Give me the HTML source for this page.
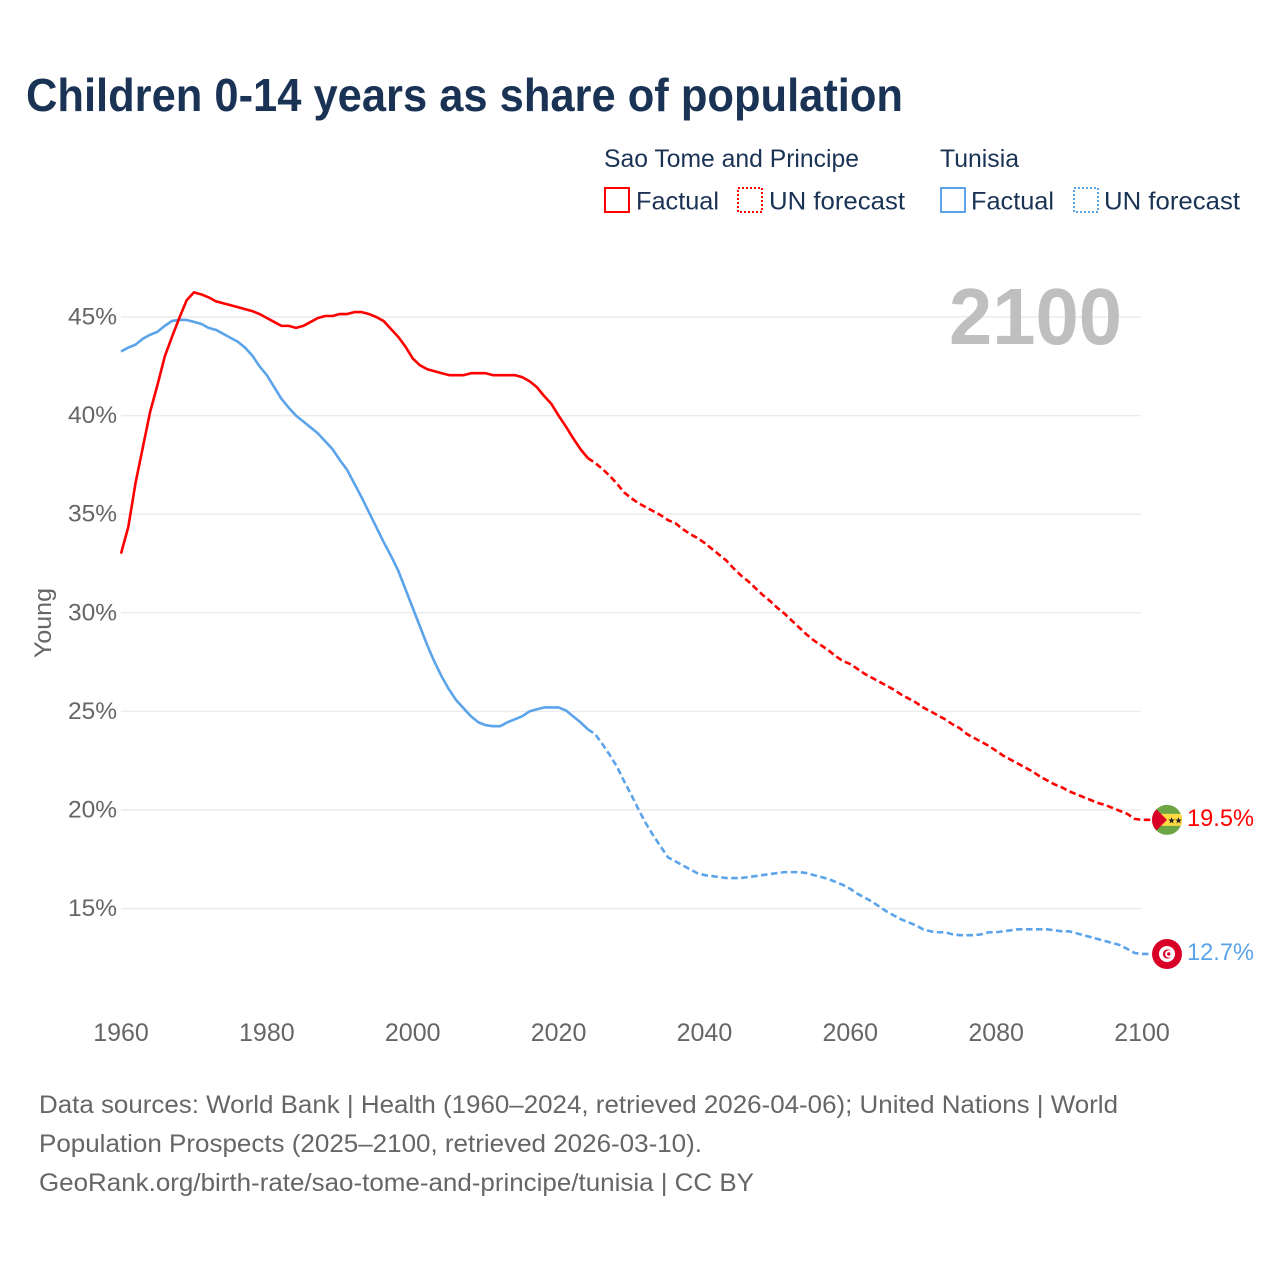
<!DOCTYPE html>
<html lang="en">
<head>
<meta charset="utf-8">
<title>Children 0-14 years as share of population</title>
<style>
html,body{margin:0;padding:0;background:#fff;}
svg{display:block;font-family:"Liberation Sans",sans-serif;}
.legend{fill:#1a3355;font-size:25px;}
.foot{fill:#666;font-size:25px;}
.tick{fill:#666;font-size:24.5px;}
</style>
</head>
<body>
<svg id="chart" xmlns="http://www.w3.org/2000/svg" width="1280" height="1280" viewBox="0 0 1280 1280">
  <defs>
    <clipPath id="flag-clip"><circle cx="0" cy="0" r="15"></circle></clipPath>
  </defs>
  <rect x="0" y="0" width="1280" height="1280" fill="#fff"></rect>

  <text x="26" y="111" font-size="46" font-weight="700" fill="#1a3355" textLength="877" lengthAdjust="spacingAndGlyphs">Children 0-14 years as share of population</text>

  <g>
    <text class="legend" x="604" y="167" textLength="255" lengthAdjust="spacingAndGlyphs">Sao Tome and Principe</text>
    <text class="legend" x="940" y="167" textLength="79" lengthAdjust="spacingAndGlyphs">Tunisia</text>

    <rect x="605" y="188" width="24" height="24" fill="none" stroke="#ff0000" stroke-width="2"></rect>
    <text class="legend" x="636" y="209.5" textLength="83" lengthAdjust="spacingAndGlyphs">Factual</text>
    <rect x="738" y="188" width="24" height="24" fill="none" stroke="#ff0000" stroke-width="2" stroke-dasharray="2 2"></rect>
    <text class="legend" x="769" y="209.5" textLength="136" lengthAdjust="spacingAndGlyphs">UN forecast</text>

    <rect x="941" y="188" width="24" height="24" fill="none" stroke="#5ba4ea" stroke-width="2"></rect>
    <text class="legend" x="971" y="209.5" textLength="83" lengthAdjust="spacingAndGlyphs">Factual</text>
    <rect x="1074" y="188" width="24" height="24" fill="none" stroke="#5ba4ea" stroke-width="2" stroke-dasharray="2 2"></rect>
    <text class="legend" x="1104" y="209.5" textLength="136" lengthAdjust="spacingAndGlyphs">UN forecast</text>
  </g>

  <g id="grid"></g>

  <text x="949" y="344" font-size="80" font-weight="700" fill="#bfbfbf" textLength="173" lengthAdjust="spacingAndGlyphs">2100</text>

  <text class="tick" transform="translate(51,623) rotate(-90)" text-anchor="middle" textLength="70" lengthAdjust="spacingAndGlyphs">Young</text>

  <g id="y-ticks"></g>
  <g id="x-ticks"></g>
  <g id="series"></g>

  <g id="flag-sao">
    <g clip-path="url(#flag-clip)">
      <rect x="-15" y="-15" width="30" height="30" fill="#6da544"></rect>
      <rect x="-15" y="-6" width="30" height="12" fill="#ffda44"></rect>
      <polygon points="-15,-15 0,0 -15,15" fill="#d80027"></polygon>
      <text x="0.5" y="3.5" font-size="9" fill="#222">★</text>
      <text x="7.5" y="3.5" font-size="9" fill="#222">★</text>
    </g>
  </g>
  <g id="flag-tunisia">
    <g clip-path="url(#flag-clip)">
      <rect x="-15" y="-15" width="30" height="30" fill="#d80027"></rect>
      <circle cx="0" cy="0" r="8" fill="#fff"></circle>
      <circle cx="0.5" cy="0" r="4.6" fill="#d80027"></circle>
      <circle cx="1.8" cy="0" r="3.7" fill="#fff"></circle>
      <circle cx="1.8" cy="0" r="1.7" fill="#d80027"></circle>
    </g>
  </g>
  <g id="end-labels"></g>

  <g>
    <text class="foot" x="39" y="1113" textLength="1079" lengthAdjust="spacingAndGlyphs">Data sources: World Bank | Health (1960–2024, retrieved 2026-04-06); United Nations | World</text>
    <text class="foot" x="39" y="1152" textLength="663" lengthAdjust="spacingAndGlyphs">Population Prospects (2025–2100, retrieved 2026-03-10).</text>
    <text class="foot" x="39" y="1191" textLength="715" lengthAdjust="spacingAndGlyphs">GeoRank.org/birth-rate/sao-tome-and-principe/tunisia | CC BY</text>
  </g>
</svg>

<script>
const years = [1960,1961,1962,1963,1964,1965,1966,1967,1968,1969,
1970,1971,1972,1973,1974,1975,1976,1977,1978,1979,
1980,1981,1982,1983,1984,1985,1986,1987,1988,1989,
1990,1991,1992,1993,1994,1995,1996,1997,1998,1999,
2000,2001,2002,2003,2004,2005,2006,2007,2008,2009,
2010,2011,2012,2013,2014,2015,2016,2017,2018,2019,
2020,2021,2022,2023,2024,2025,2026,2027,2028,2029,
2030,2031,2032,2033,2034,2035,2036,2037,2038,2039,
2040,2041,2042,2043,2044,2045,2046,2047,2048,2049,
2050,2051,2052,2053,2054,2055,2056,2057,2058,2059,
2060,2061,2062,2063,2064,2065,2066,2067,2068,2069,
2070,2071,2072,2073,2074,2075,2076,2077,2078,2079,
2080,2081,2082,2083,2084,2085,2086,2087,2088,2089,
2090,2091,2092,2093,2094,2095,2096,2097,2098,2099,2100];

const saoValues = [33.0,34.35,36.6,38.4,40.2,41.55,43.0,44.0,44.95,45.85,
46.25,46.15,46.0,45.8,45.7,45.6,45.5,45.4,45.3,45.15,
44.95,44.75,44.55,44.55,44.45,44.55,44.75,44.95,45.05,45.05,
45.15,45.15,45.25,45.25,45.15,45.0,44.8,44.4,44.0,43.5,
42.9,42.55,42.35,42.25,42.15,42.05,42.05,42.05,42.15,42.15,
42.15,42.05,42.05,42.05,42.05,41.95,41.75,41.45,41.0,40.6,
40.0,39.45,38.85,38.3,37.85,37.6,37.3,36.95,36.55,36.1,
35.8,35.55,35.35,35.15,34.95,34.7,34.55,34.25,34.0,33.8,
33.55,33.25,32.95,32.65,32.25,31.9,31.6,31.25,30.9,30.6,
30.25,29.95,29.6,29.25,28.9,28.6,28.35,28.1,27.8,27.55,
27.4,27.15,26.9,26.7,26.5,26.3,26.1,25.85,25.65,25.45,
25.2,25.0,24.8,24.6,24.35,24.15,23.85,23.65,23.45,23.25,
23.0,22.75,22.55,22.35,22.15,21.95,21.7,21.5,21.3,21.15,
20.95,20.8,20.65,20.5,20.35,20.25,20.1,19.95,19.8,19.55,19.5];

const tunisiaValues = [43.25,43.45,43.6,43.9,44.1,44.25,44.55,44.8,44.85,44.85,
44.75,44.65,44.45,44.35,44.15,43.95,43.75,43.45,43.05,42.5,
42.05,41.45,40.85,40.4,40.0,39.7,39.4,39.1,38.7,38.3,
37.75,37.25,36.55,35.85,35.1,34.35,33.6,32.9,32.15,31.2,
30.25,29.3,28.35,27.5,26.75,26.1,25.55,25.15,24.75,24.45,
24.3,24.25,24.25,24.45,24.6,24.75,25.0,25.1,25.2,25.2,
25.2,25.05,24.75,24.45,24.1,23.85,23.35,22.8,22.2,21.45,
20.75,20.0,19.3,18.7,18.15,17.6,17.4,17.2,17.0,16.8,
16.7,16.65,16.6,16.55,16.55,16.55,16.6,16.65,16.7,16.75,
16.8,16.85,16.85,16.85,16.8,16.7,16.6,16.5,16.35,16.2,
16.0,15.75,15.55,15.35,15.1,14.85,14.65,14.45,14.3,14.15,
13.95,13.85,13.8,13.8,13.7,13.65,13.65,13.65,13.7,13.8,
13.8,13.85,13.9,13.95,13.95,13.95,13.95,13.95,13.9,13.85,
13.85,13.75,13.65,13.55,13.45,13.35,13.25,13.15,12.95,12.75,12.7];

const yTickValues = [15,20,25,30,35,40,45];
const yTickLabels = ["15%","20%","25%","30%","35%","40%","45%"];
const xTickValues = [1960,1980,2000,2020,2040,2060,2080,2100];
const xTickLabels = ["1960","1980","2000","2020","2040","2060","2080","2100"];
const lastFactualYear = 2024;

const NS = "http://www.w3.org/2000/svg";
const plotLeft = 121, plotRight = 1142;
function xScale(year){ return plotLeft + (year - 1960) * (plotRight - plotLeft) / 140; }
function yScale(v){ return 317 + (45 - v) * 19.72; }

const grid = document.getElementById("grid");
const yTicksG = document.getElementById("y-ticks");
yTickValues.forEach(function(v, i){
  const line = document.createElementNS(NS, "line");
  line.setAttribute("x1", plotLeft);
  line.setAttribute("x2", plotRight - 1);
  line.setAttribute("y1", yScale(v));
  line.setAttribute("y2", yScale(v));
  line.setAttribute("stroke", "#ececec");
  line.setAttribute("stroke-width", "1.5");
  
  
  grid.appendChild(line);

  const t = document.createElementNS(NS, "text");
  t.setAttribute("class", "tick");
  t.setAttribute("x", 117);
  t.setAttribute("y", yScale(v) + 7.5);
  t.setAttribute("text-anchor", "end");
  t.textContent = yTickLabels[i];
  
  
  yTicksG.appendChild(t);
});

const xTicksG = document.getElementById("x-ticks");
xTickValues.forEach(function(yr, i){
  const t = document.createElementNS(NS, "text");
  t.setAttribute("class", "tick");
  t.setAttribute("x", xScale(yr));
  t.setAttribute("y", 1041);
  t.setAttribute("text-anchor", "middle");
  t.style.fontSize = "25px";
  t.textContent = xTickLabels[i];
  
  
  xTicksG.appendChild(t);
});

const flagX = xScale(2100) + 25;

function linePath(vals, fromYear, toYear, extendX){
  let d = "";
  years.forEach(function(yr, i){
    if (yr < fromYear || yr > toYear) return;
    d += (d ? "L" : "M") + xScale(yr).toFixed(2) + " " + yScale(vals[i]).toFixed(2);
  });
  if (extendX) d += "L" + extendX + " " + yScale(vals[vals.length - 1]).toFixed(2);
  return d;
}

const seriesG = document.getElementById("series");
function drawLine(d, color, dashed, name){
  const p = document.createElementNS(NS, "path");
  p.setAttribute("d", d);
  p.setAttribute("fill", "none");
  p.setAttribute("stroke", color);
  p.setAttribute("stroke-width", "2.6");
  p.setAttribute("stroke-linejoin", "round");
  if (dashed) p.setAttribute("stroke-dasharray", "6.5 3.5");
  
  
  seriesG.appendChild(p);
}

drawLine(linePath(tunisiaValues, 1960, lastFactualYear), "#5ba4ea", false, "line-tunisia-factual");
drawLine(linePath(tunisiaValues, lastFactualYear, 2100, flagX - 15), "#5ba4ea", true, "line-tunisia-forecast");
drawLine(linePath(saoValues, 1960, lastFactualYear), "#ff0000", false, "line-sao-factual");
drawLine(linePath(saoValues, lastFactualYear, 2100, flagX - 15), "#ff0000", true, "line-sao-forecast");

const saoLast = saoValues[saoValues.length - 1];
const tunisiaLast = tunisiaValues[tunisiaValues.length - 1];
document.getElementById("flag-sao").setAttribute("transform", "translate(" + flagX + "," + yScale(saoLast) + ")");
document.getElementById("flag-tunisia").setAttribute("transform", "translate(" + flagX + "," + yScale(tunisiaLast) + ")");

const endG = document.getElementById("end-labels");
function endLabel(v, color, name){
  const t = document.createElementNS(NS, "text");
  t.setAttribute("x", 1187);
  t.setAttribute("y", yScale(v) + 6);
  t.setAttribute("fill", color);
  t.style.fontSize = "24.5px";
  t.setAttribute("textLength", "67");
  t.setAttribute("lengthAdjust", "spacingAndGlyphs");
  t.textContent = v.toFixed(1) + "%";
  
  
  endG.appendChild(t);
}
endLabel(saoLast, "#ff0000", "end-label-sao");
endLabel(tunisiaLast, "#5ba4ea", "end-label-tunisia");
</script>
</body>
</html>
